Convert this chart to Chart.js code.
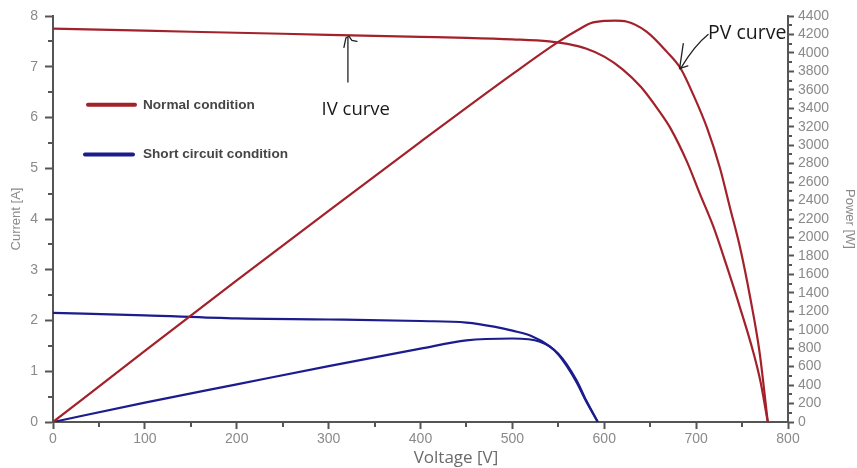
<!DOCTYPE html>
<html>
<head>
<meta charset="utf-8">
<script src="https://cdn.jsdelivr.net/npm/chart.js@4.4.1/dist/chart.umd.min.js"></script>
<style>
html,body{margin:0;padding:0;background:#fff;}
#wrap{position:relative;width:857px;height:468px;}
canvas{display:block;}
</style>
</head>
<body>
<div id="wrap"><canvas id="c" width="857" height="468"></canvas></div>
<script>
// ---- Data ----
const normalIvVoltage = [0, 50, 100, 150, 200, 250, 300, 350, 400, 450, 500, 540, 560, 580, 600, 620, 640, 660, 672, 690, 704, 719, 733, 748, 762, 770, 778];
const normalIvCurrent = [7.75, 7.73, 7.71, 7.69, 7.67, 7.65, 7.63, 7.61, 7.59, 7.57, 7.54, 7.50, 7.45, 7.36, 7.20, 6.95, 6.60, 6.12, 5.79, 5.13, 4.50, 3.84, 3.09, 2.24, 1.39, 0.80, 0];

const normalPvVoltage = [0, 100, 200, 300, 400, 500, 550, 575, 585, 600, 612, 624, 646, 668, 683, 697, 712, 726, 737, 748, 759, 769, 778];
const normalPvPower = [0, 771, 1534, 2289, 3036, 3770, 4120, 4270, 4322, 4347, 4350, 4340, 4231, 4014, 3834, 3545, 3184, 2750, 2317, 1883, 1341, 760, 0];

const shortIvVoltage = [0, 100, 200, 300, 400, 450, 480, 500, 520, 540, 550, 560, 570, 580, 593];
const shortIvCurrent = [2.15, 2.10, 2.04, 2.02, 1.99, 1.96, 1.88, 1.80, 1.70, 1.50, 1.33, 1.08, 0.78, 0.42, 0];

const shortPvVoltage = [0, 100, 200, 300, 400, 450, 500, 530, 550, 570, 580, 593];
const shortPvPower = [0, 210, 408, 606, 795, 885, 905, 870, 740, 450, 240, 0];

const voltageTicks = [0, 100, 200, 300, 400, 500, 600, 700, 800];
const currentTicks = [0, 1, 2, 3, 4, 5, 6, 7, 8];
const powerTicks = [0, 200, 400, 600, 800, 1000, 1200, 1400, 1600, 1800, 2000, 2200, 2400, 2600, 2800, 3000, 3200, 3400, 3600, 3800, 4000, 4200, 4400];

const seriesNames = ['Normal condition', 'Short circuit condition'];

const RED = '#a3212a';
const BLUE = '#1c1c8e';
const AXIS = '#555555';
const LABEL = '#8a8a8a';
const TICKFONT = { family: '"Liberation Sans", Arial, sans-serif', size: 14 };

function pts(xs, ys){ return xs.map((x,i)=>({x:x, y:ys[i]})); }

const minorTicks = {
  id:'minorTicks',
  afterDraw(chart){
    const ctx = chart.ctx;
    const x = chart.scales.x, yI = chart.scales.yI, yP = chart.scales.yP;
    const area = chart.chartArea;
    ctx.save();
    ctx.strokeStyle = AXIS;
    ctx.lineWidth = 2;
    for (let v = 50; v < 800; v += 100){
      const px = Math.round(x.getPixelForValue(v));
      ctx.beginPath(); ctx.moveTo(px, area.bottom); ctx.lineTo(px, area.bottom + 5); ctx.stroke();
    }
    for (let v = 0.5; v < 8; v += 1){
      const py = Math.round(yI.getPixelForValue(v));
      ctx.beginPath(); ctx.moveTo(area.left, py); ctx.lineTo(area.left - 5, py); ctx.stroke();
    }
    for (let v = 100; v < 4400; v += 200){
      const py = Math.round(yP.getPixelForValue(v));
      ctx.beginPath(); ctx.moveTo(area.right, py); ctx.lineTo(area.right + 4, py); ctx.stroke();
    }
    ctx.restore();
  }
};

const overlay = {
  id:'overlay',
  afterDraw(chart){
    const ctx = chart.ctx;
    const x = chart.scales.x, yI = chart.scales.yI, yP = chart.scales.yP;
    ctx.save();
    // legend
    const legend = [
      {name: seriesNames[0], color: RED, y: yI.getPixelForValue(6.25), x0: 88, x1: 135},
      {name: seriesNames[1], color: BLUE, y: yI.getPixelForValue(5.27), x0: 85, x1: 133}
    ];
    legend.forEach(l => {
      ctx.strokeStyle = l.color; ctx.lineWidth = 4; ctx.lineCap = 'round';
      ctx.beginPath(); ctx.moveTo(l.x0, l.y); ctx.lineTo(l.x1, l.y); ctx.stroke();
      ctx.fillStyle = '#454545';
      ctx.font = 'bold 13.6px "Liberation Sans", Arial, sans-serif';
      ctx.textAlign = 'left'; ctx.textBaseline = 'middle';
      ctx.fillText(l.name, 143, l.y);
    });
    // x axis title
    ctx.fillStyle = '#6a6a6a';
    ctx.font = '17px "Open Sans", sans-serif';
    ctx.textAlign = 'center'; ctx.textBaseline = 'middle';
    ctx.fillText('Voltage [V]', 456, 458);
    // IV curve annotation
    ctx.strokeStyle = '#222'; ctx.lineWidth = 1.3; ctx.lineCap = 'round';
    const ax = x.getPixelForValue(321);
    ctx.beginPath();
    ctx.moveTo(ax, yI.getPixelForValue(6.70));
    ctx.lineTo(ax, yI.getPixelForValue(7.57));
    ctx.stroke();
    ctx.beginPath();
    ctx.moveTo(ax - 4, yI.getPixelForValue(7.38));
    ctx.lineTo(ax - 2, yI.getPixelForValue(7.57));
    ctx.lineTo(ax + 1, yI.getPixelForValue(7.60));
    ctx.lineTo(ax + 4, yI.getPixelForValue(7.52));
    ctx.lineTo(ax + 9, yI.getPixelForValue(7.50));
    ctx.stroke();
    ctx.fillStyle = '#1a1a1a';
    ctx.font = '18.5px "Open Sans", "Liberation Sans", sans-serif';
    ctx.textAlign = 'center'; ctx.textBaseline = 'middle';
    ctx.fillText('IV curve', x.getPixelForValue(329.5), yI.getPixelForValue(6.15));
    // PV curve annotation
    ctx.beginPath();
    ctx.moveTo(x.getPixelForValue(713), yP.getPixelForValue(4200));
    ctx.quadraticCurveTo(x.getPixelForValue(698), yP.getPixelForValue(4080), x.getPixelForValue(683), yP.getPixelForValue(3830));
    ctx.stroke();
    ctx.beginPath();
    ctx.moveTo(x.getPixelForValue(686), yP.getPixelForValue(4100));
    ctx.lineTo(x.getPixelForValue(682), yP.getPixelForValue(3830));
    ctx.lineTo(x.getPixelForValue(691), yP.getPixelForValue(3860));
    ctx.stroke();
    ctx.font = '19.5px "Open Sans", "Liberation Sans", sans-serif';
    ctx.textAlign = 'left';
    ctx.fillText('PV curve', x.getPixelForValue(713), yP.getPixelForValue(4215));
    ctx.restore();
  }
};

const ds = (label, xs, ys, axis, color) => ({
  label: label,
  data: pts(xs, ys),
  yAxisID: axis,
  borderColor: color,
  backgroundColor: color,
  borderWidth: 2.2,
  pointRadius: 0,
  showLine: true,
  fill: false,
  cubicInterpolationMode: 'monotone'
});

new Chart(document.getElementById('c'), {
  type: 'scatter',
  data: {
    datasets: [
      ds(seriesNames[0] + ' IV', normalIvVoltage, normalIvCurrent, 'yI', RED),
      ds(seriesNames[0] + ' PV', normalPvVoltage, normalPvPower, 'yP', RED),
      ds(seriesNames[1] + ' IV', shortIvVoltage, shortIvCurrent, 'yI', BLUE),
      ds(seriesNames[1] + ' PV', shortPvVoltage, shortPvPower, 'yP', BLUE)
    ]
  },
  options: {
    responsive: false,
    animation: false,
    devicePixelRatio: 1,
    layout: { padding: { top: 16, left: 0, right: 0, bottom: 0 } },
    plugins: { legend: { display: false }, tooltip: { enabled: false } },
    scales: {
      x: {
        type: 'linear', min: 0, max: 800,
        afterBuildTicks: s => { s.ticks = voltageTicks.map(v => ({value: v})); },
        afterFit: s => { s.height = 46; },
        border: { display: true, color: AXIS, width: 2 },
        grid: { display: true, drawOnChartArea: false, drawTicks: true, tickLength: 7, tickColor: AXIS, tickWidth: 2 },
        ticks: { color: LABEL, font: TICKFONT, padding: 2, maxRotation: 0, autoSkip: false, callback: v => String(v) },
        title: { display: false }
      },
      yI: {
        type: 'linear', position: 'left', min: 0, max: 8,
        afterBuildTicks: s => { s.ticks = currentTicks.map(v => ({value: v})); },
        afterFit: s => { s.width = 53; },
        border: { display: true, color: AXIS, width: 2 },
        grid: { display: true, drawOnChartArea: false, drawTicks: true, tickLength: 8, tickColor: AXIS, tickWidth: 2 },
        ticks: { color: LABEL, font: TICKFONT, padding: 7, autoSkip: false, callback: v => String(v) },
        title: { display: true, text: 'Current [A]', color: LABEL, font: { family: '"Liberation Sans", Arial, sans-serif', size: 13 }, padding: { top: 9, bottom: 0 } }
      },
      yP: {
        type: 'linear', position: 'right', min: 0, max: 4400,
        afterBuildTicks: s => { s.ticks = powerTicks.map(v => ({value: v})); },
        afterFit: s => { s.width = 69; },
        border: { display: true, color: AXIS, width: 2 },
        grid: { display: true, drawOnChartArea: false, drawTicks: true, tickLength: 6, tickColor: AXIS, tickWidth: 2 },
        ticks: { color: LABEL, font: TICKFONT, padding: 4, autoSkip: false, callback: v => String(v) },
        title: { display: true, text: 'Power [W]', color: LABEL, font: { family: '"Liberation Sans", Arial, sans-serif', size: 13 }, padding: { top: 0, bottom: 2 } }
      }
    }
  },
  plugins: [minorTicks, overlay]
});
</script>
</body>
</html>
